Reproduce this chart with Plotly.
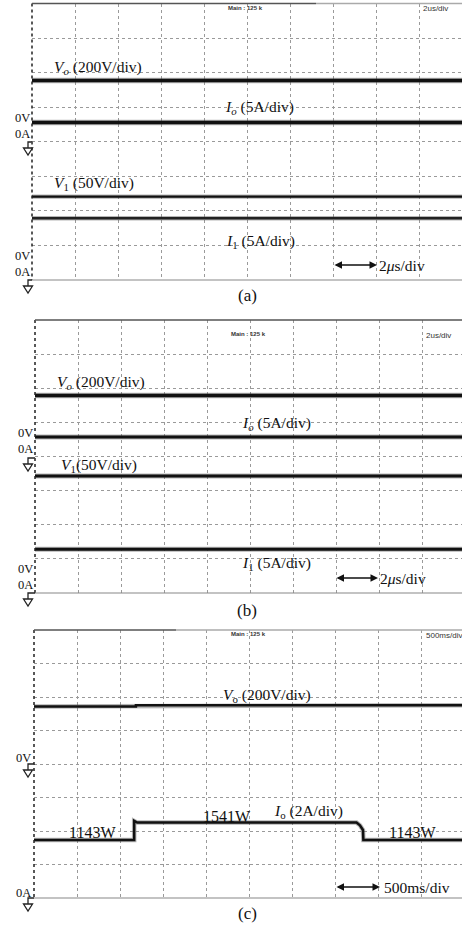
import plotly.graph_objects as go

W, H = 462, 927
DIV_PX = 43.0
SERIF = "Liberation Serif, Times New Roman, serif"
NARROW = "Liberation Sans Narrow, Liberation Sans, Arial, sans-serif"

# ---------------- data (x in time divisions, y in vertical divisions from bottom) ----------------
a_time = [0, 10]
a_vo = [5.77, 5.77]
a_io = [4.56, 4.56]
a_v1 = [2.41, 2.41]
a_i1 = [1.79, 1.79]

b_time = [0, 10]
b_vo = [5.79, 5.79]
b_io = [4.57, 4.57]
b_v1 = [3.43, 3.43]
b_i1 = [1.28, 1.28]

c_vo_time = [0, 2.37, 2.37, 10]
c_vo = [5.72, 5.72, 5.75, 5.75]
c_io_time = [0, 2.33, 2.33, 2.40, 7.50, 7.58, 7.65, 7.66, 10]
c_io = [1.73, 1.73, 2.30, 2.25, 2.25, 2.17, 2.03, 1.73, 1.73]

# ---------------- panel geometry (pixels) ----------------
panels = {
    "a": dict(left=32, top=3.5, bottom=280),
    "b": dict(left=35, top=320, bottom=593),
    "c": dict(left=34, top=630, bottom=898),
}


def X(px):
    return px / W


def Y(py):
    return 1 - py / H


fig = go.Figure()

axis_names = {"a": ("x", "y"), "b": ("x2", "y2"), "c": ("x3", "y3")}


def add_line(panel, xs, ys, width, color="#111"):
    xa, ya = axis_names[panel]
    # faint fuzz underneath, like a scope trace
    fig.add_trace(go.Scatter(x=xs, y=ys, mode="lines", xaxis=xa, yaxis=ya,
                             line=dict(color="rgba(90,90,90,0.45)", width=width + 2),
                             hoverinfo="skip", showlegend=False))
    fig.add_trace(go.Scatter(x=xs, y=ys, mode="lines", xaxis=xa, yaxis=ya,
                             line=dict(color=color, width=width), hoverinfo="skip",
                             showlegend=False))


add_line("a", a_time, a_vo, 3.5)
add_line("a", a_time, a_io, 3.5)
add_line("a", a_time, a_v1, 2.2)
add_line("a", a_time, a_i1, 2.5, color="#222")

add_line("b", b_time, b_vo, 3.5)
add_line("b", b_time, b_io, 3)
add_line("b", b_time, b_v1, 3)
add_line("b", b_time, b_i1, 3)

add_line("c", c_vo_time, c_vo, 2.5)
add_line("c", c_io_time, c_io, 2.5)

layout = dict(
    width=W, height=H, autosize=False,
    margin=dict(l=0, r=0, t=0, b=0),
    paper_bgcolor="white", plot_bgcolor="white",
    showlegend=False,
)

for i, key in enumerate(["a", "b", "c"]):
    p = panels[key]
    suffix = "" if i == 0 else str(i + 1)
    xr = (W - p["left"]) / DIV_PX
    layout["xaxis" + suffix] = dict(
        domain=[X(p["left"]), 1], range=[0, xr], tick0=0, dtick=1,
        showgrid=True, gridcolor="#9a9a9a", gridwidth=1, griddash="dot",
        zeroline=False, showticklabels=False, ticks="", showline=False,
        fixedrange=True, anchor="y" + suffix,
    )
    layout["yaxis" + suffix] = dict(
        domain=[Y(p["bottom"]), Y(p["top"])], range=[0, 8], tick0=0, dtick=1,
        showgrid=True, gridcolor="#9a9a9a", gridwidth=1, griddash="dot",
        zeroline=False, showticklabels=False, ticks="", showline=False,
        fixedrange=True, anchor="x" + suffix,
    )

fig.update_layout(**layout)

shapes = []
# panel borders
top_dark_end = {"a": 316, "b": 462, "c": 176}
for key, p in panels.items():
    l, t, b = p["left"], p["top"], p["bottom"]
    shapes.append(dict(type="line", xref="paper", yref="paper", x0=X(l), x1=X(l), y0=Y(t), y1=Y(b),
                       line=dict(color="#222", width=1.5, dash="dot")))
    shapes.append(dict(type="line", xref="paper", yref="paper", x0=X(l), x1=X(top_dark_end[key]),
                       y0=Y(t), y1=Y(t), line=dict(color="#555", width=1.5)))
    shapes.append(dict(type="line", xref="paper", yref="paper", x0=X(top_dark_end[key]), x1=1,
                       y0=Y(t), y1=Y(t), line=dict(color="#aaa", width=1.5)))
    shapes.append(dict(type="line", xref="paper", yref="paper", x0=X(l), x1=1,
                       y0=Y(b), y1=Y(b), line=dict(color="#888", width=1.2)))

# ground symbols (cx, ytop, panel left)
grounds = [(28, 142, 32), (28, 280, 32), (28, 458, 35), (28, 593, 35), (28, 764, 34), (28, 898, 34)]
for cx, yt, lx in grounds:
    path = (f"M {X(lx)},{Y(yt)} L {X(cx)},{Y(yt)} L {X(cx)},{Y(yt + 6)} "
            f"M {X(cx - 4.5)},{Y(yt + 6)} L {X(cx + 4.5)},{Y(yt + 6)} L {X(cx)},{Y(yt + 13)} Z")
    shapes.append(dict(type="path", xref="paper", yref="paper", path=path,
                       line=dict(color="#222", width=1.3), fillcolor="white"))

fig.update_layout(shapes=shapes)

ann = []


def txt(text, px, py, xanchor="left", size=15.5, family=SERIF, color="#111"):
    ann.append(dict(text=text, x=X(px), y=Y(py), xref="paper", yref="paper",
                    xanchor=xanchor, yanchor="middle", showarrow=False,
                    font=dict(family=family, size=size, color=color)))


def arrow(x0, x1, py):
    ann.append(dict(text="", x=X(x1), y=Y(py), xref="paper", yref="paper",
                    ax=-(x1 - x0), ay=0, axref="pixel", ayref="pixel",
                    showarrow=True, arrowhead=2, startarrowhead=2, arrowside="end+start",
                    arrowsize=1, arrowwidth=1.5, arrowcolor="#111"))


# panel (a)
txt("<i>V</i><sub><i>o</i></sub> (200V/div)", 52, 68)
txt("<i>I</i><sub><i>o</i></sub> (5A/div)", 223, 107)
txt("<i>V</i><sub>1</sub> (50V/div)", 52, 183)
txt("<i>I</i><sub>1</sub> (5A/div)", 224, 241)
arrow(333, 377, 265)
txt("2<i>μ</i>s/div", 377, 265)
txt("(a)", 247, 295, xanchor="center", size=17)
txt("0V<br>0A", 32, 125.5, xanchor="right", size=12.5)
txt("0V<br>0A", 32, 263.5, xanchor="right", size=12.5)
txt("<b>Main : 125 k</b>", 245, 8, xanchor="center", size=6, family=NARROW, color="#333")
txt("2us/div", 421, 9, size=8, family=NARROW, color="#333")

# panel (b)
txt("<i>V</i><sub><i>o</i></sub> (200V/div)", 55, 382)
txt("<i>I</i><sub><i>o</i></sub> (5A/div)", 240, 423)
txt("<i>V</i><sub>1</sub>(50V/div)", 59, 465)
txt("<i>I</i><sub>1</sub> (5A/div)", 240, 563)
arrow(335, 378, 578)
txt("2<i>μ</i>s/div", 378, 578)
txt("(b)", 247, 610, xanchor="center", size=17)
txt("0V<br>0A", 35, 441, xanchor="right", size=12.5)
txt("0V<br>0A", 35, 576.5, xanchor="right", size=12.5)
txt("<b>Main : 125 k</b>", 248, 334, xanchor="center", size=6, family=NARROW, color="#333")
txt("2us/div", 424, 335, size=8, family=NARROW, color="#333")

# panel (c)
txt("<i>V</i><sub>o</sub> (200V/div)", 221, 695)
txt("1143W", 92, 832, xanchor="center", size=16)
txt("1541W", 227, 816, xanchor="center", size=16)
txt("<i>I</i><sub>o</sub> (2A/div)", 272, 811)
txt("1143W", 412, 832, xanchor="center", size=16)
arrow(335, 380, 887)
txt("500ms/div", 382, 887)
txt("(c)", 247, 913, xanchor="center", size=17)
txt("0V", 33, 758, xanchor="right", size=12.5)
txt("0A", 33, 893, xanchor="right", size=12.5)
txt("<b>Main : 125 k</b>", 248, 634, xanchor="center", size=6, family=NARROW, color="#333")
txt("500ms/div", 424, 635, size=8, family=NARROW, color="#333")

fig.update_layout(annotations=ann)

fig.write_html("out.html", config={"displayModeBar": False},
               post_script="document.body.style.margin='0';document.body.style.overflow='hidden';")
